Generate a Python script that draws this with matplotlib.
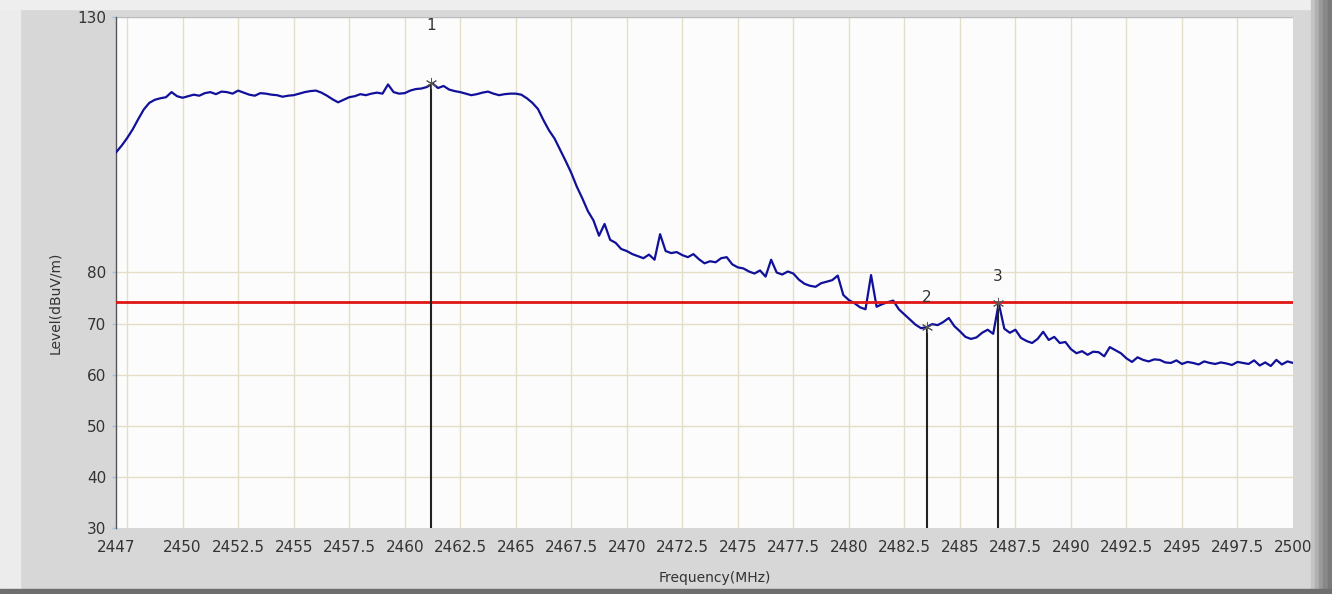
import numpy as np
import matplotlib.pyplot as plt
from matplotlib.patches import Rectangle

freq_start = 2447.0
freq_step = 0.25
level = [
    103.5, 104.8, 106.3, 108.0,   # 2447
    110.0, 111.9, 113.2, 113.8,   # 2448
    114.1, 114.3, 115.3, 114.5,   # 2449
    114.2, 114.5, 114.8, 114.6,   # 2450
    115.1, 115.3, 114.9, 115.4,   # 2451
    115.3, 115.0, 115.6, 115.2,   # 2452
    114.8, 114.6, 115.1, 115.0,   # 2453
    114.8, 114.7, 114.4, 114.6,   # 2454
    114.7, 115.0, 115.3, 115.5,   # 2455
    115.6, 115.2, 114.6, 113.9,   # 2456
    113.3, 113.8, 114.3, 114.5,   # 2457
    114.9, 114.7, 115.0, 115.2,   # 2458
    115.0, 116.8, 115.3, 115.0,   # 2459
    115.1, 115.6, 115.9, 116.0,   # 2460
    116.3, 117.0, 116.1, 116.5,   # 2461
    115.8, 115.5, 115.3, 115.0,   # 2462
    114.7, 114.9, 115.2, 115.4,   # 2463
    115.0, 114.7, 114.9, 115.0,   # 2464
    115.0, 114.8, 114.1, 113.2,   # 2465
    112.0, 109.8, 107.8, 106.2,   # 2466
    104.0, 101.8, 99.5, 96.8,     # 2467
    94.5, 92.0, 90.2, 87.2,       # 2468
    89.5, 86.4, 85.8, 84.6,       # 2469
    84.2, 83.6, 83.2, 82.8,       # 2470
    83.5, 82.5, 87.5, 84.2,       # 2471
    83.8, 84.0, 83.4, 83.0,       # 2472
    83.6, 82.6, 81.8, 82.2,       # 2473
    82.0, 82.8, 83.0, 81.6,       # 2474
    81.0, 80.8, 80.2, 79.8,       # 2475
    80.4, 79.2, 82.5, 80.0,       # 2476
    79.6, 80.2, 79.8, 78.6,       # 2477
    77.8, 77.4, 77.2, 77.9,       # 2478
    78.2, 78.5, 79.4, 75.6,       # 2479
    74.6, 74.0, 73.2, 72.8,       # 2480
    79.5, 73.3, 73.8, 74.2,       # 2481
    74.5, 72.8, 71.8, 70.8,       # 2482
    69.8, 69.1, 69.3, 69.9,       # 2483
    69.7, 70.3, 71.1, 69.5,       # 2484
    68.5, 67.4, 67.0, 67.3,       # 2485
    68.2, 68.8, 68.0, 74.0,       # 2486
    69.0, 68.2, 68.8, 67.2,       # 2487
    66.6, 66.2, 67.0, 68.4,       # 2488
    66.8, 67.4, 66.2, 66.4,       # 2489
    65.0, 64.2, 64.6, 63.9,       # 2490
    64.5, 64.4, 63.6, 65.4,       # 2491
    64.8, 64.2, 63.2, 62.5,       # 2492
    63.4, 62.9, 62.6, 63.0,       # 2493
    62.9, 62.4, 62.3, 62.8,       # 2494
    62.1, 62.5, 62.3, 62.0,       # 2495
    62.6, 62.3, 62.1, 62.4,       # 2496
    62.2, 61.9, 62.5, 62.3,       # 2497
    62.1, 62.8, 61.8, 62.4,       # 2498
    61.7, 62.9, 62.0, 62.6,       # 2499
    62.3,                         # 2500
]
freq = freq_start + freq_step * np.arange(len(level))

limit_level = 74.2

marker_names = ["1", "2", "3"]
marker_freq = [2461.2, 2483.5, 2486.7]
marker_level = [117.0, 69.3, 74.0]
marker_label_level = [128.3, 75.1, 79.2]

xticks = [2447, 2450, 2452.5, 2455, 2457.5, 2460, 2462.5, 2465, 2467.5, 2470,
          2472.5, 2475, 2477.5, 2480, 2482.5, 2485, 2487.5, 2490, 2492.5,
          2495, 2497.5, 2500]
xtick_labels = ["2447", "2450", "2452.5", "2455", "2457.5", "2460", "2462.5",
                "2465", "2467.5", "2470", "2472.5", "2475", "2477.5", "2480",
                "2482.5", "2485", "2487.5", "2490", "2492.5", "2495", "2497.5",
                "2500"]
yticks = [30, 40, 50, 60, 70, 80, 130]

fig = plt.figure(figsize=(13.32, 5.94), dpi=100, facecolor="#d7d7d7")

# window frame shading
fig.patches.append(Rectangle((0, 0), 0.015, 1, transform=fig.transFigure,
                             color="#ececec", zorder=0))
fig.patches.append(Rectangle((0, 0.985), 1, 0.015, transform=fig.transFigure,
                             color="#eeeeee", zorder=0))
for i, c in enumerate(["#c4c4c4", "#b0b0b0", "#9a9a9a", "#888888", "#7a7a7a"]):
    fig.patches.append(Rectangle((0.984 + i * 0.0032, 0), 0.0032, 1,
                                 transform=fig.transFigure, color=c, zorder=0))
fig.patches.append(Rectangle((0, 0), 1, 0.008, transform=fig.transFigure,
                             color="#6e6e6e", zorder=0))

ax = fig.add_axes([116 / 1332, 66 / 594, 1177 / 1332, 511 / 594])
ax.set_facecolor("#fcfcfc")

ax.set_xlim(2447, 2500)
ax.set_ylim(30, 130)

# grid
grid_c = "#e3dec8"
for x in xticks[1:-1] + [2447.5]:
    ax.axvline(x, color=grid_c, lw=1, zorder=1)
for y in yticks[1:-1]:
    ax.axhline(y, color=grid_c, lw=1, zorder=1)

ax.plot(freq, level, color="#10109a", lw=1.6, zorder=3)
ax.axhline(limit_level, color="#e01515", lw=2, zorder=4)

for name, f, lv, ly in zip(marker_names, marker_freq, marker_level, marker_label_level):
    ax.vlines(f, 30, lv, color="#222222", lw=1.5, zorder=5)
    ax.plot(f, lv, marker=(6, 2, 0), ms=8, color="#555555", mew=0.7, zorder=6)
    ax.text(f, ly, name, ha="center", va="center", fontsize=11, color="#333333", zorder=6)

ax.set_xticks(xticks)
ax.set_xticklabels(xtick_labels)
ax.set_yticks(yticks)
ax.tick_params(axis="x", length=0, pad=9, labelsize=11, labelcolor="#333333")
ax.tick_params(axis="y", length=3, width=1, color="#9cc3e6", pad=4,
               labelsize=11, labelcolor="#333333")

for s in ["top", "right", "bottom"]:
    ax.spines[s].set_visible(False)
ax.spines["left"].set_color("#555555")
ax.spines["left"].set_linewidth(1)
ax.axhline(130, color="#bbbbbb", lw=1, zorder=2)

ax.set_ylabel("Level(dBuV/m)", fontsize=10, color="#333333")
ax.yaxis.set_label_coords(-0.046, 0.44)
ax.set_xlabel("Frequency(MHz)", fontsize=10, color="#333333", va="center")
ax.xaxis.set_label_coords(0.509, -0.098)

fig.savefig("out.png", dpi=100, facecolor=fig.get_facecolor())
